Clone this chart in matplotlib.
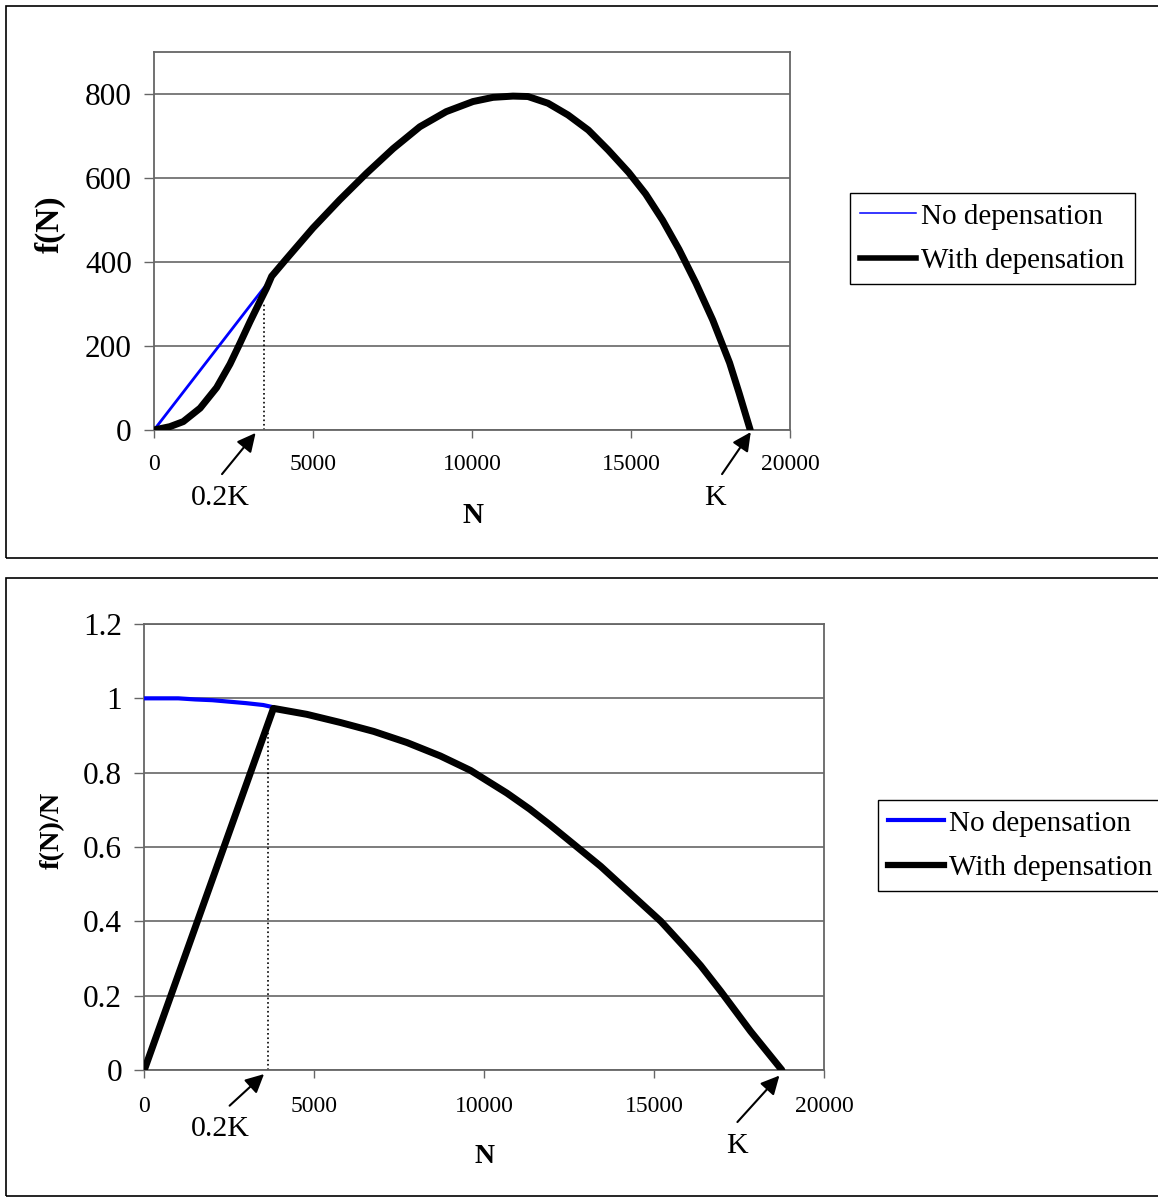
import matplotlib.pyplot as plt
from matplotlib.patches import Rectangle
from matplotlib.lines import Line2D

plt.rcParams['font.family'] = ['Liberation Serif', 'DejaVu Serif']

# top panel: f(N)
n_top_nodep = [0, 1000, 2000, 3000, 3700]
f_nodep = [0, 98, 196, 294, 362]
n_top_dep = [0, 500, 920, 1450, 1970, 2390, 2700, 3020, 3330, 3540, 3700, 4170,
             5000, 5840, 6680, 7520, 8360, 9190, 10030, 10660, 11290, 11760,
             12390, 13020, 13660, 14290, 14930, 15460, 15990, 16510, 17040,
             17570, 18100, 18400, 18750]
f_dep = [0, 8, 20, 52, 101, 157, 206, 258, 306, 338, 366, 408,
         481, 548, 611, 670, 722, 758, 782, 792, 795, 794,
         778, 750, 714, 666, 613, 562, 500, 430, 350,
         262, 160, 88, 0]

# bottom panel: f(N)/N
n_bot_nodep = [0, 1000, 1500, 2000, 2500, 3000, 3500, 3750]
r_nodep = [1.0, 1.0, 0.997, 0.995, 0.991, 0.987, 0.982, 0.977]
n_bot_dep = [0, 3800, 4780, 5770, 6750, 7730, 8710, 9600, 10670, 11340, 11930,
             12520, 13430, 14410, 15200, 15880, 16370, 16960, 17840, 18760]
r_dep = [0, 0.973, 0.957, 0.935, 0.911, 0.881, 0.845, 0.806, 0.745, 0.702, 0.660,
         0.616, 0.548, 0.466, 0.400, 0.332, 0.281, 0.212, 0.104, 0.0]

x_ticks = [0, 5000, 10000, 15000, 20000]
labels = ['No depensation', 'With depensation']

fig = plt.figure(figsize=(11.58, 11.97), dpi=100)

# outer frames around each chart
fig.patches.append(Rectangle((5.5 / 1158, 1 - 558 / 1197), 1.2, 552 / 1197,
                             transform=fig.transFigure, fill=False, ec='black', lw=1.2))
fig.patches.append(Rectangle((5.5 / 1158, 1 - 1196 / 1197), 1.2, 618 / 1197,
                             transform=fig.transFigure, fill=False, ec='black', lw=1.2))

ax1 = fig.add_axes([154 / 1158, 1 - 430 / 1197, 636 / 1158, 378 / 1197])
ax2 = fig.add_axes([144.3 / 1158, 1 - 1070 / 1197, 679.7 / 1158, 446 / 1197])

grey = '#666666'
blue = '#0000ff'


def style_axes(ax, ylim, yticks, ytl):
    ax.set_xlim(0, 20000)
    ax.set_ylim(*ylim)
    ax.set_xticks(x_ticks)
    ax.set_yticks(yticks)
    ax.set_yticklabels(ytl)
    ax.grid(axis='y', color=grey, lw=1.2)
    ax.set_axisbelow(True)
    for s in ax.spines.values():
        s.set_color(grey)
        s.set_linewidth(1.3)
    ax.tick_params(axis='y', direction='out', length=7, width=1, color=grey,
                   labelsize=22.5, pad=9)
    ax.tick_params(axis='x', direction='out', length=6, width=1, color=grey,
                   labelsize=17, pad=11)


leg_kw = dict(loc='upper left', bbox_transform=fig.transFigure, fontsize=21,
              frameon=True, fancybox=False, edgecolor='black', framealpha=1,
              borderpad=0.35, labelspacing=0.62, handlelength=1.9,
              handletextpad=0.2, borderaxespad=0)

# ---- top
ax1.plot(n_top_nodep, f_nodep, color=blue, lw=2, zorder=3)
ax1.plot(n_top_dep, f_dep, color='black', lw=5, solid_capstyle='round',
         solid_joinstyle='round', zorder=4)
ax1.plot([3470, 3470], [0, 300], color='black', ls=':', lw=1.2, zorder=2)
style_axes(ax1, (0, 900), [0, 200, 400, 600, 800], ['0', '200', '400', '600', '800'])
ax1.set_xlabel('N', fontsize=21, fontweight='bold')
ax1.xaxis.set_label_coords(0.501, -0.225)
ax1.xaxis.label.set_va('center')
ax1.set_ylabel('f(N)', fontsize=24, fontweight='bold')
ax1.yaxis.set_label_coords(-0.164, 0.545)
ax1.yaxis.label.set_va('center')

arrow = dict(arrowstyle='-|>', mutation_scale=28, color='black', lw=1.5,
             shrinkA=0, shrinkB=0)
ax1.annotate('', xy=(3195, -7), xytext=(2139, -105), arrowprops=arrow, annotation_clip=False)
ax1.text(2076, -162, '0.2K', fontsize=21.5, ha='center', va='center', clip_on=False)
ax1.annotate('', xy=(18766, -5), xytext=(17863, -105), arrowprops=arrow, annotation_clip=False)
ax1.text(17627, -162, 'K', fontsize=21.5, ha='center', va='center', clip_on=False)

h1 = [Line2D([], [], color=blue, lw=1.1), Line2D([], [], color='black', lw=4)]
lg1 = ax1.legend(h1, labels, bbox_to_anchor=(850 / 1158, 1 - 193 / 1197), **leg_kw)
lg1.get_frame().set_linewidth(1.0)

# ---- bottom
ax2.plot(n_bot_nodep, r_nodep, color=blue, lw=3, zorder=3)
ax2.plot(n_bot_dep, r_dep, color='black', lw=5, solid_capstyle='round',
         solid_joinstyle='round', zorder=4)
ax2.plot([3650, 3650], [0, 0.934], color='black', ls=':', lw=1.2, zorder=2)
style_axes(ax2, (0, 1.2), [0, 0.2, 0.4, 0.6, 0.8, 1.0, 1.2],
           ['0', '0.2', '0.4', '0.6', '0.8', '1', '1.2'])
ax2.tick_params(axis='x', pad=13)
ax2.set_xlabel('N', fontsize=20, fontweight='bold')
ax2.xaxis.set_label_coords(0.4998, -0.195)
ax2.xaxis.label.set_va('center')
ax2.set_ylabel('f(N)/N', fontsize=20.5, fontweight='bold')
ax2.yaxis.set_label_coords(-0.136, 0.538)
ax2.yaxis.label.set_va('center')

ax2.annotate('', xy=(3523, -0.011), xytext=(2510, -0.096), arrowprops=arrow, annotation_clip=False)
ax2.text(2228, -0.160, '0.2K', fontsize=21.5, ha='center', va='center', clip_on=False)
ax2.annotate('', xy=(18688, -0.015), xytext=(17452, -0.140), arrowprops=arrow, annotation_clip=False)
ax2.text(17443, -0.204, 'K', fontsize=21.5, ha='center', va='center', clip_on=False)

h2 = [Line2D([], [], color=blue, lw=3), Line2D([], [], color='black', lw=4.5)]
lg2 = ax2.legend(h2, labels, bbox_to_anchor=(878 / 1158, 1 - 800 / 1197), **leg_kw)
lg2.get_frame().set_linewidth(1.0)

fig.savefig('out.png', dpi=100)
